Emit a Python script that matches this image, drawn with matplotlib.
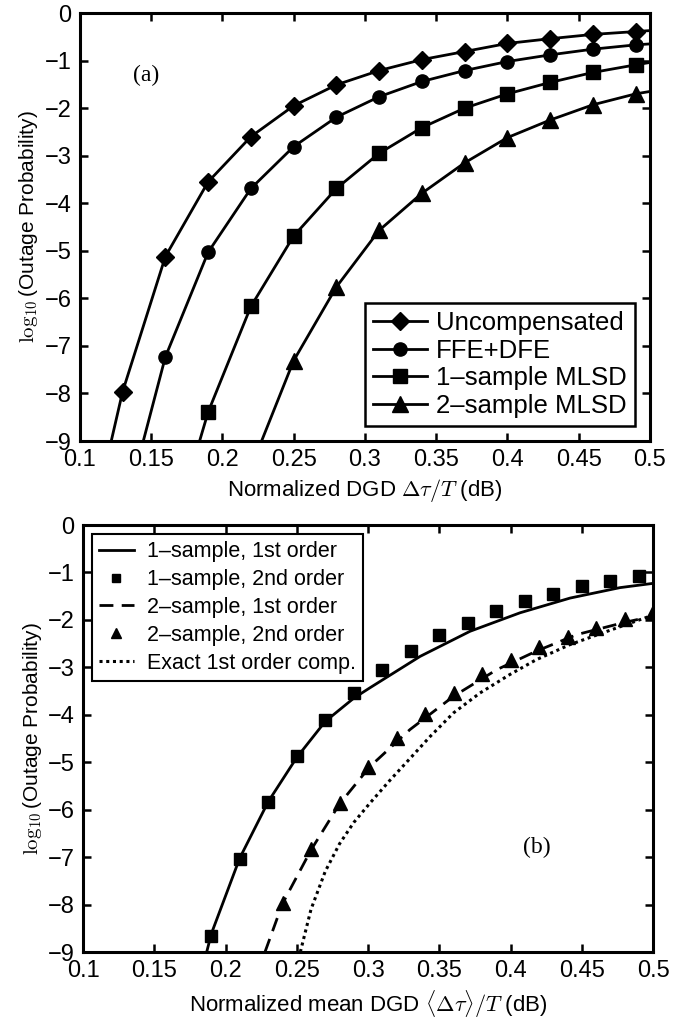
import numpy as np
import matplotlib
matplotlib.use("Agg")
import matplotlib.pyplot as plt

plt.rcParams['font.family'] = ['Liberation Sans', 'DejaVu Sans']
plt.rcParams['mathtext.fontset'] = 'cm'
plt.rcParams['axes.unicode_minus'] = True

# (a) outage probability vs DGD, markers and line ends
unc_x = [0.13, 0.16, 0.19, 0.22, 0.25, 0.28, 0.31, 0.34, 0.37, 0.40, 0.43, 0.46, 0.49]
unc_y = [-7.96, -5.12, -3.55, -2.60, -1.95, -1.51, -1.21, -0.98, -0.81, -0.64, -0.54, -0.45, -0.39]
unc_ends = ([0.122, 0.50], [-9.0, -0.37])

ffe_x = [0.16, 0.19, 0.22, 0.25, 0.28, 0.31, 0.34, 0.37, 0.40, 0.43, 0.46, 0.49]
ffe_y = [-7.23, -5.03, -3.69, -2.81, -2.19, -1.76, -1.44, -1.21, -1.02, -0.88, -0.76, -0.67]
ffe_ends = ([0.1445, 0.50], [-9.0, -0.65])

ml1_x = [0.19, 0.22, 0.25, 0.28, 0.31, 0.34, 0.37, 0.40, 0.43, 0.46, 0.49]
ml1_y = [-8.39, -6.17, -4.69, -3.69, -2.95, -2.41, -2.00, -1.70, -1.46, -1.25, -1.09]
ml1_ends = ([0.184, 0.50], [-9.0, -1.04])

ml2_x = [0.25, 0.28, 0.31, 0.34, 0.37, 0.40, 0.43, 0.46, 0.49]
ml2_y = [-7.31, -5.76, -4.57, -3.79, -3.15, -2.62, -2.25, -1.93, -1.70]
ml2_ends = ([0.2275, 0.50], [-9.0, -1.65])

# (b) mean DGD, 1st order curves and 2nd order points
s1_first_x = [0.1868, 0.19, 0.21, 0.23, 0.25, 0.27, 0.29, 0.3014, 0.3365, 0.3716, 0.4067, 0.4418, 0.4768, 0.50]
s1_first_y = [-9.0, -8.62, -7.02, -5.83, -4.90, -4.14, -3.65, -3.43, -2.77, -2.24, -1.85, -1.54, -1.32, -1.23]

s1_second_x = [0.19, 0.21, 0.23, 0.25, 0.27, 0.29, 0.31, 0.33, 0.35, 0.37, 0.39, 0.41, 0.43, 0.45, 0.47, 0.49]
s1_second_y = [-8.67, -7.04, -5.83, -4.86, -4.12, -3.54, -3.05, -2.66, -2.31, -2.06, -1.82, -1.61, -1.45, -1.29, -1.17, -1.07]

s2_first_x = [0.2277, 0.24, 0.26, 0.28, 0.3014, 0.3295, 0.36, 0.3903, 0.418, 0.4465, 0.479, 0.50]
s2_first_y = [-9.0, -7.98, -6.85, -5.88, -5.09, -4.31, -3.61, -3.05, -2.66, -2.31, -2.06, -1.92]

s2_second_x = [0.24, 0.26, 0.28, 0.30, 0.32, 0.34, 0.36, 0.38, 0.40, 0.42, 0.44, 0.46, 0.48, 0.50]
s2_second_y = [-7.96, -6.83, -5.86, -5.09, -4.49, -3.98, -3.54, -3.15, -2.84, -2.57, -2.36, -2.17, -1.98, -1.84]

exact_x = [0.2525, 0.26, 0.27, 0.28, 0.29, 0.3014, 0.3154, 0.3295, 0.3435, 0.360, 0.3786, 0.3996, 0.418, 0.4418, 0.465, 0.498]
exact_y = [-9.0, -8.1, -7.3, -6.72, -6.27, -5.86, -5.38, -4.92, -4.46, -3.96, -3.54, -3.15, -2.84, -2.52, -2.27, -1.92]

xticks = [0.1, 0.15, 0.2, 0.25, 0.3, 0.35, 0.4, 0.45, 0.5]
xtick_labels = ['0.1', '0.15', '0.2', '0.25', '0.3', '0.35', '0.4', '0.45', '0.5']
yticks = list(range(-9, 1))


def style_axes(ax):
    ax.set_xlim(0.1, 0.5)
    ax.set_ylim(-9, 0)
    ax.set_xticks(xticks)
    ax.set_xticklabels(xtick_labels)
    ax.set_yticks(yticks)
    ax.tick_params(direction='in', length=6, width=1.8, top=True, right=True,
                   labelsize=17, pad=6)
    for sp in ax.spines.values():
        sp.set_linewidth(2.2)
    ax.set_ylabel(r'$\log_{10}$(Outage Probability)', fontsize=15, labelpad=3)


def curve(ax, xs, ys, ends, marker, ms, label):
    # the line runs from the -9 crossing through the markers to the right edge
    lx = [ends[0][0]] + list(xs) + [ends[0][1]]
    ly = [ends[1][0]] + list(ys) + [ends[1][1]]
    ax.plot(lx, ly, '-', color='k', lw=2.0, zorder=2)
    ax.plot(xs, ys, linestyle='none', marker=marker, ms=ms, color='k', zorder=3)
    return ax.plot([], [], '-', color='k', lw=2.0, marker=marker, ms=ms, label=label)[0]


fig = plt.figure(figsize=(6.77, 10.24), dpi=100)

ax1 = fig.add_axes([0.118, 0.5693, 0.842, 0.418])
h = []
h.append(curve(ax1, unc_x, unc_y, unc_ends, 'D', 9, 'Uncompensated'))
h.append(curve(ax1, ffe_x, ffe_y, ffe_ends, 'o', 9.5, 'FFE+DFE'))
h.append(curve(ax1, ml1_x, ml1_y, ml1_ends, 's', 9.5, '1\u2013sample MLSD'))
h.append(curve(ax1, ml2_x, ml2_y, ml2_ends, '^', 11, '2\u2013sample MLSD'))
style_axes(ax1)
ax1.set_xlabel(r'Normalized DGD $\Delta\tau/T$ (dB)', fontsize=16, labelpad=4)
ax1.text(0.093, 0.855, '(a)', transform=ax1.transAxes, fontsize=17,
         family='Liberation Serif', va='center', ha='left')
leg1 = ax1.legend(handles=h, loc='lower right', fontsize=18.5, numpoints=1,
                  handlelength=2.1, handletextpad=0.35, labelspacing=0.14,
                  borderpad=0.3, borderaxespad=0.6, fancybox=False,
                  edgecolor='k', framealpha=1)
leg1.get_frame().set_linewidth(1.8)

ax2 = fig.add_axes([0.1226, 0.0703, 0.842, 0.417])
ax2.plot(s1_first_x, s1_first_y, '-', color='k', lw=2.0, label='1\u2013sample, 1st order')
ax2.plot(s1_second_x, s1_second_y, linestyle='none', marker='s', ms=9, color='k',
         label='1\u2013sample, 2nd order')
ax2.plot(s2_first_x, s2_first_y, '--', color='k', lw=2.0, dashes=(5, 3),
         label='2\u2013sample, 1st order')
ax2.plot(s2_second_x, s2_second_y, linestyle='none', marker='^', ms=10.5, color='k',
         label='2\u2013sample, 2nd order')
ax2.plot(exact_x, exact_y, ':', color='k', lw=2.2, dashes=(1, 1.2),
         label='Exact 1st order comp.')
style_axes(ax2)
ax2.set_xlabel(r'Normalized mean DGD $\langle\Delta\tau\rangle/T$ (dB)', fontsize=16, labelpad=4)
ax2.text(0.772, 0.244, '(b)', transform=ax2.transAxes, fontsize=17,
         family='Liberation Serif', va='center', ha='left')
leg2 = ax2.legend(loc='upper left', fontsize=15.5, numpoints=1,
                  handlelength=1.6, handletextpad=0.6, labelspacing=0.32,
                  borderpad=0.35, borderaxespad=0.4, fancybox=False,
                  edgecolor='k', framealpha=1, markerscale=0.7)
leg2.get_frame().set_linewidth(1.5)

fig.savefig('out.png', dpi=100)
